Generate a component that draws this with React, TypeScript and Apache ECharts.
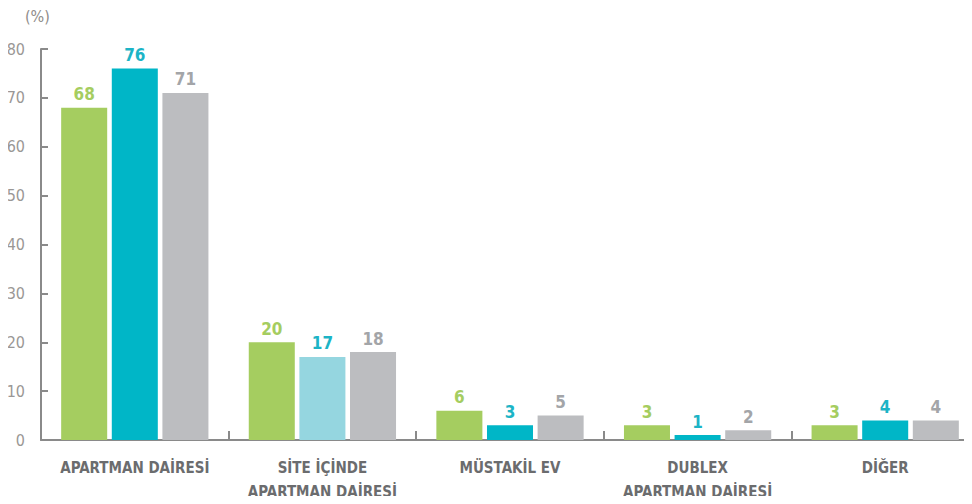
import React, { useEffect, useRef } from "react";
import * as echarts from "echarts";

const categories = ["APARTMAN DAİRESİ", "SİTE İÇİNDE\nAPARTMAN DAİRESİ", "MÜSTAKİL EV", "DUBLEX\nAPARTMAN DAİRESİ", "DİĞER"];
const seriesA = [68, 20, 6, 3, 3];
const seriesB = [76, 17, 3, 1, 4];
const seriesC = [71, 18, 5, 2, 4];
const yTicks = [0, 10, 20, 30, 40, 50, 60, 70, 80];

const GREEN = "#a5cd60";
const CYAN = "#00b6c7";
const LIGHTCYAN = "#95d6e0";
const GRAY = "#bcbdc0";
const FONT = "'Liberation Sans Narrow', 'DejaVu Sans Condensed', 'Roboto', sans-serif";

export default function App() {
  const ref = useRef<HTMLDivElement>(null);
  useEffect(() => {
    if (!ref.current) return;
    const chart = echarts.init(ref.current, undefined, { renderer: "svg" });
    const mkLabel = (color: string) => ({
      show: true,
      position: "top" as const,
      distance: 5,
      color,
      fontFamily: FONT,
      fontSize: 17,
      fontWeight: "bold" as const,
    });
    chart.setOption({
      animation: false,
      grid: { left: 41, right: 1, top: 49, bottom: 63, containLabel: false },
      graphic: [
        {
          type: "text",
          left: 25,
          top: 8,
          style: { text: "(%)", fill: "#8f8c8a", fontSize: 16, fontFamily: FONT },
        },
      ],
      xAxis: {
        type: "category",
        data: categories,
        axisLine: { lineStyle: { color: "#8a8a8a", width: 2 } },
        axisTick: { show: true, inside: true, length: 9, lineStyle: { color: "#8a8a8a", width: 2 } },
        axisLabel: {
          color: "#6b6c6e",
          fontFamily: FONT,
          fontSize: 15,
          fontWeight: "bold",
          lineHeight: 24,
          margin: 16,
          interval: 0,
        },
      },
      yAxis: {
        type: "value",
        min: 0,
        max: yTicks[yTicks.length - 1],
        interval: 10,
        splitLine: { show: false },
        axisLine: { show: true, lineStyle: { color: "#8a8a8a", width: 2 } },
        axisTick: { show: true, inside: true, length: 7, lineStyle: { color: "#8a8a8a", width: 2 } },
        axisLabel: { color: "#9a9795", fontFamily: FONT, fontSize: 16, margin: 16 },
      },
      series: [
        {
          type: "bar",
          data: seriesA,
          itemStyle: { color: GREEN },
          label: mkLabel(GREEN),
          barGap: "10%",
          barCategoryGap: "21.5%",
        },
        {
          type: "bar",
          data: seriesB.map((v, i) => (i === 1 ? { value: v, itemStyle: { color: LIGHTCYAN } } : v)),
          itemStyle: { color: CYAN },
          label: mkLabel("#1cb4c6"),
        },
        {
          type: "bar",
          data: seriesC,
          itemStyle: { color: GRAY },
          label: mkLabel("#a3a5a8"),
        },
      ],
    });
    return () => chart.dispose();
  }, []);
  return (
    <div style={{ width: 972, height: 504, margin: -8, overflow: "hidden" }}>
      <div ref={ref} style={{ width: 980, height: 504 }} />
    </div>
  );
}
